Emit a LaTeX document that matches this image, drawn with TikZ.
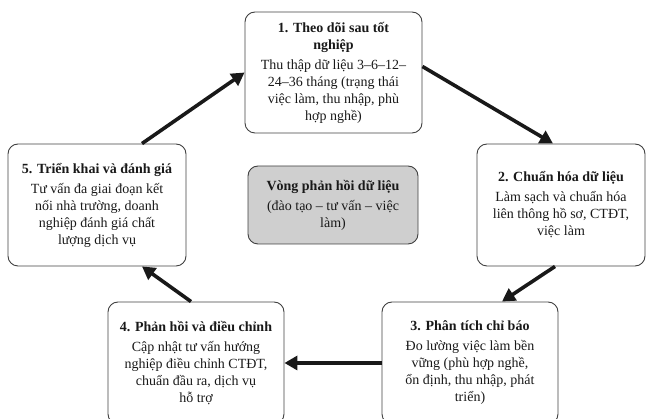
\documentclass[tikz,border=0pt]{standalone}
\usepackage{fontspec}
\setmainfont{Liberation Serif}
\usetikzlibrary{arrows.meta,calc}

\begin{document}
\begin{tikzpicture}[
    x=1pt, y=-1pt,
    font=\fontsize{14}{17}\selectfont,
    stage/.style={
        draw=black!75,
        rounded corners=10pt,
        line width=0.9pt,
        minimum width=177pt,
        minimum height=122pt,
        align=center,
        text=black!90,
        inner sep=2pt
    },
    hub/.style={
        stage,
        fill=black!19,
        minimum width=170pt,
        minimum height=78pt
    },
    arr/.style={-{Triangle[length=13pt,width=14pt]}, line width=3.6pt, black!90}
]
\useasboundingbox (0,0) rectangle (646,419);
\clip (0,0) rectangle (646,419);

% ring of stages
\node[stage, minimum height=121pt] (track) at (333.5,72.5)
{{\bfseries 1. Theo dõi sau tốt}\\
{\bfseries nghiệp}\\[3pt]
Thu thập dữ liệu 3–6–12–\\
24–36 tháng (trạng thái\\
việc làm, thu nhập, phù\\
hợp nghề)};

\node[stage, minimum width=168pt] (clean) at (561,205)
{{\bfseries 2. Chuẩn hóa dữ liệu}\\[3pt]
Làm sạch và chuẩn hóa\\
liên thông hồ sơ, CTĐT,\\
việc làm};

\node[stage, minimum width=176pt] (analyse) at (470,363)
{{\bfseries 3. Phân tích chỉ báo}\\[3pt]
Đo lường việc làm bền\\
vững (phù hợp nghề,\\
ổn định, thu nhập, phát\\
triển)};

\node[stage, minimum width=176pt] (adjust) at (196,363)
{{\bfseries 4. Phản hồi và điều chỉnh}\\[3pt]
Cập nhật tư vấn hướng\\
nghiệp điều chỉnh CTĐT,\\
chuẩn đầu ra, dịch vụ\\
hỗ trợ};

\node[stage, minimum width=178pt] (deploy) at (97,205)
{{\bfseries 5. Triển khai và đánh giá}\\[3pt]
Tư vấn đa giai đoạn kết\\
nối nhà trường, doanh\\
nghiệp đánh giá chất\\
lượng dịch vụ};

% centre
\node[hub] (loop) at (333,205)
{{\bfseries Vòng phản hồi dữ liệu}\\[3pt]
(đào tạo – tư vấn – việc\\
làm)};

\draw[arr] ([yshift=6pt]track.east) -- ([xshift=-8pt]clean.north);
\draw[arr] ([xshift=-6pt]clean.south) -- ([xshift=32pt]analyse.north);
\draw[arr] (analyse.west) -- (adjust.east);
\draw[arr] ([xshift=-5pt]adjust.north) -- ([xshift=45pt]deploy.south);
\draw[arr] ([xshift=45pt]deploy.north) -- (track.west);

\end{tikzpicture}
\end{document}
